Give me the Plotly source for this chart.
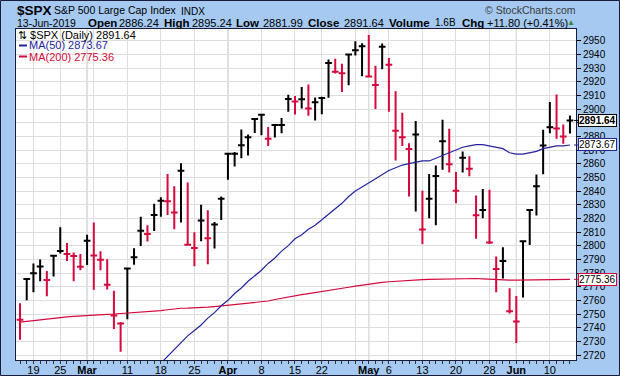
import plotly.graph_objects as go

# ---------------- data ----------------
DATES = [
    "2019-02-14", "2019-02-15", "2019-02-19", "2019-02-20", "2019-02-21", "2019-02-22",
    "2019-02-25", "2019-02-26", "2019-02-27", "2019-02-28",
    "2019-03-01", "2019-03-04", "2019-03-05", "2019-03-06", "2019-03-07", "2019-03-08",
    "2019-03-11", "2019-03-12", "2019-03-13", "2019-03-14", "2019-03-15",
    "2019-03-18", "2019-03-19", "2019-03-20", "2019-03-21", "2019-03-22",
    "2019-03-25", "2019-03-26", "2019-03-27", "2019-03-28", "2019-03-29",
    "2019-04-01", "2019-04-02", "2019-04-03", "2019-04-04", "2019-04-05",
    "2019-04-08", "2019-04-09", "2019-04-10", "2019-04-11", "2019-04-12",
    "2019-04-15", "2019-04-16", "2019-04-17", "2019-04-18",
    "2019-04-22", "2019-04-23", "2019-04-24", "2019-04-25", "2019-04-26",
    "2019-04-29", "2019-04-30",
    "2019-05-01", "2019-05-02", "2019-05-03",
    "2019-05-06", "2019-05-07", "2019-05-08", "2019-05-09", "2019-05-10",
    "2019-05-13", "2019-05-14", "2019-05-15", "2019-05-16", "2019-05-17",
    "2019-05-20", "2019-05-21", "2019-05-22", "2019-05-23", "2019-05-24",
    "2019-05-28", "2019-05-29", "2019-05-30", "2019-05-31",
    "2019-06-03", "2019-06-04", "2019-06-05", "2019-06-06", "2019-06-07",
    "2019-06-10", "2019-06-11", "2019-06-12", "2019-06-13",
]

HIGH = [
    2757.9, 2775.7, 2787.0, 2789.9, 2781.4, 2792.7, 2813.5, 2802.0, 2795.0, 2793.9,
    2808.0, 2816.9, 2795.9, 2790.0, 2767.0, 2744.1, 2784.0, 2798.2, 2821.2, 2815.0,
    2830.7, 2835.4, 2852.4, 2843.5, 2860.3, 2846.2, 2809.8, 2829.9, 2826.0, 2817.4,
    2836.0, 2868.0, 2868.5, 2885.0, 2881.3, 2893.2, 2895.9, 2886.9, 2889.0, 2893.4,
    2910.5, 2909.6, 2916.1, 2918.0, 2908.4, 2909.0, 2936.3, 2936.8, 2933.1, 2939.9,
    2949.5, 2948.2, 2954.1, 2931.7, 2947.9, 2937.3, 2913.0, 2897.3, 2875.0, 2891.3,
    2840.2, 2852.5, 2858.7, 2892.2, 2885.5, 2853.9, 2868.9, 2865.5, 2836.7, 2841.4,
    2841.0, 2792.0, 2798.9, 2768.9, 2763.1, 2803.5, 2826.2, 2852.1, 2884.9, 2905.1,
    2910.6, 2888.6, 2895.24,
]

LOW = [
    2731.2, 2760.0, 2766.0, 2773.9, 2763.0, 2777.5, 2794.2, 2788.8, 2774.0, 2782.0,
    2785.9, 2767.7, 2782.0, 2768.0, 2739.0, 2722.3, 2746.2, 2786.0, 2799.8, 2803.0,
    2810.8, 2821.2, 2822.5, 2812.0, 2817.0, 2800.2, 2785.0, 2803.3, 2786.5, 2798.0,
    2818.8, 2848.3, 2858.0, 2864.0, 2866.0, 2882.5, 2880.8, 2873.0, 2879.1, 2882.2,
    2898.0, 2896.0, 2900.3, 2895.0, 2891.5, 2896.2, 2908.3, 2926.0, 2912.5, 2917.3,
    2939.2, 2924.0, 2923.3, 2900.0, 2929.0, 2898.0, 2862.3, 2873.0, 2836.0, 2825.0,
    2801.0, 2820.0, 2815.0, 2855.5, 2853.5, 2831.0, 2853.5, 2850.8, 2805.0, 2820.0,
    2801.3, 2766.0, 2776.0, 2750.3, 2728.8, 2762.0, 2800.5, 2822.0, 2852.3, 2882.3,
    2878.3, 2874.5, 2881.99,
]

CLOSE = [
    2745.73, 2775.60, 2779.76, 2784.70, 2774.88, 2792.67, 2796.11, 2793.90, 2792.38, 2784.49,
    2803.69, 2792.81, 2789.65, 2771.45, 2748.93, 2743.07, 2783.30, 2791.52, 2810.92, 2808.48,
    2822.48, 2832.94, 2832.57, 2824.23, 2854.88, 2800.71, 2798.36, 2818.46, 2805.37, 2815.44,
    2834.40, 2867.19, 2867.24, 2873.40, 2879.39, 2892.74, 2895.77, 2878.20, 2888.21, 2888.32,
    2907.41, 2905.58, 2907.06, 2900.45, 2905.03, 2907.97, 2933.68, 2927.25, 2926.17, 2939.88,
    2943.03, 2945.83, 2923.73, 2917.52, 2945.64, 2932.47, 2884.05, 2879.42, 2870.72, 2881.40,
    2811.87, 2834.41, 2850.96, 2876.32, 2859.53, 2840.23, 2864.36, 2856.27, 2822.24, 2826.06,
    2802.39, 2783.02, 2788.86, 2752.06, 2744.45, 2803.27, 2826.15, 2843.49, 2873.34, 2886.73,
    2885.72, 2879.84, 2891.64,
]

MA50 = [
    2626, 2630, 2634, 2638, 2642, 2646, 2650, 2654, 2659, 2663,
    2668, 2672, 2677, 2681, 2686, 2690, 2695, 2699, 2704, 2708,
    2712, 2714, 2719, 2724, 2729, 2734, 2738, 2742, 2747, 2751,
    2756, 2760, 2765, 2769, 2774, 2778, 2782, 2787, 2791, 2796,
    2800, 2805, 2808, 2812, 2815, 2819, 2823, 2827, 2831, 2836,
    2840, 2843, 2846, 2849, 2852, 2855, 2857, 2859, 2860, 2861,
    2862, 2862, 2864, 2866, 2868, 2870, 2872, 2873, 2874, 2874,
    2873, 2872, 2871, 2868, 2867, 2867, 2868, 2869, 2871, 2872,
    2873, 2873, 2873.67,
]

MA200 = [
    2744.0, 2744.6, 2745.1, 2745.7, 2746.3, 2746.9, 2747.5, 2747.9, 2748.2, 2748.6,
    2749.0, 2749.3, 2749.6, 2749.8, 2750.0, 2750.3, 2750.5, 2750.9, 2751.2, 2751.6,
    2752.0, 2752.5, 2753.1, 2753.7, 2754.2, 2754.3, 2754.4, 2754.6, 2755.0, 2755.4,
    2755.9, 2756.3, 2756.7, 2757.2, 2757.7, 2758.2, 2758.7, 2759.5, 2760.6, 2761.6,
    2762.5, 2763.4, 2764.2, 2764.9, 2765.6, 2766.3, 2767.1, 2767.9, 2768.8, 2769.6,
    2770.4, 2771.2, 2771.9, 2772.6, 2773.1, 2773.6, 2774.0, 2774.4, 2774.7, 2774.9,
    2775.1, 2775.3, 2775.4, 2775.6, 2775.8, 2776.0, 2776.1, 2776.1, 2776.0, 2775.7,
    2775.4, 2775.1, 2774.9, 2774.8, 2774.8, 2774.9, 2775.0, 2775.1, 2775.2, 2775.2,
    2775.3, 2775.3, 2775.36,
]

PREV_CLOSE = 2753.03          # close before the first bar (first bar is a down day)
LAST_OPEN = 2886.24
LAST_VOLUME = "1.6B"

WEEK_STARTS = [
    "2019-02-19", "2019-02-25", "2019-03-04", "2019-03-11", "2019-03-18", "2019-03-25",
    "2019-04-01", "2019-04-08", "2019-04-15", "2019-04-22", "2019-04-29",
    "2019-05-06", "2019-05-13", "2019-05-20", "2019-05-28", "2019-06-03", "2019-06-10",
]
MONTH_STARTS = ["2019-03-01", "2019-04-01", "2019-05-01", "2019-06-03"]
MONTH_NAMES = ["Mar", "Apr", "May", "Jun"]
UNLABELED = ["2019-03-04", "2019-04-29"]

# ---------------- styling ----------------
FONT = "Liberation Sans, Arial, sans-serif"
FRAME_BG = "#a5c9f1"
RED = "#d5093c"
BLUE = "#23239e"
BORDER = "#1b1b3a"
GRID = "#dedede"
MONTH_GRID = "#b9b9b9"

PL, PR, PT, PB = 16, 576, 29, 360
W, H = 620, 376


def fx(px):
    return (px - PL) / (PR - PL)


def fy(py):
    return (PB - py) / (PB - PT)


X = list(range(len(DATES)))
prev = [PREV_CLOSE] + CLOSE[:-1]
up_idx = [i for i in X if CLOSE[i] > prev[i]]
dn_idx = [i for i in X if CLOSE[i] <= prev[i]]

fig = go.Figure()

fig.add_trace(go.Scatter(x=X, y=MA200, mode="lines", line=dict(color=RED, width=1.2),
                         hoverinfo="skip", showlegend=False))
fig.add_trace(go.Scatter(x=X, y=MA50, mode="lines", line=dict(color=BLUE, width=1.2),
                         hoverinfo="skip", showlegend=False))

for idx, col in ((up_idx, "black"), (dn_idx, RED)):
    fig.add_trace(go.Ohlc(
        x=idx,
        open=[CLOSE[i] for i in idx],
        high=[HIGH[i] for i in idx],
        low=[LOW[i] for i in idx],
        close=[CLOSE[i] for i in idx],
        increasing=dict(line=dict(color=col, width=2)),
        decreasing=dict(line=dict(color=col, width=2)),
        tickwidth=0.5,
        hoverinfo="skip",
        showlegend=False,
    ))

# x ticks: week starts + month starts
tick_dates = sorted(set(WEEK_STARTS) | set(MONTH_STARTS))
tickvals, ticktext = [], []
for d in tick_dates:
    tickvals.append(DATES.index(d))
    if d in MONTH_STARTS:
        ticktext.append("<b>%s</b>" % MONTH_NAMES[MONTH_STARTS.index(d)])
    elif d in UNLABELED:
        ticktext.append("")
    else:
        ticktext.append(str(int(d[-2:])))

shapes = []
for d in MONTH_STARTS:
    shapes.append(dict(type="line", xref="x", yref="paper", x0=DATES.index(d), x1=DATES.index(d),
                       y0=0, y1=1, line=dict(color=MONTH_GRID, width=1), layer="below"))
# outer frame
shapes.append(dict(type="rect", xref="paper", yref="paper", x0=fx(0.5), x1=fx(W - 0.5),
                   y0=fy(H - 0.5), y1=fy(0.5), line=dict(color=BORDER, width=1)))
# legend line swatches
shapes.append(dict(type="line", xref="paper", yref="paper", x0=fx(19), x1=fx(27),
                   y0=fy(45.5), y1=fy(45.5), line=dict(color=BLUE, width=2)))
shapes.append(dict(type="line", xref="paper", yref="paper", x0=fx(19), x1=fx(27),
                   y0=fy(56.5), y1=fy(56.5), line=dict(color=RED, width=2)))

ann = []


def txt(text, x, y, size, color="black", xanchor="left", bold=False):
    ann.append(dict(text=("<b>%s</b>" % text) if bold else text, x=fx(x), y=fy(y),
                    xref="paper", yref="paper", xanchor=xanchor, yanchor="middle",
                    showarrow=False, borderpad=0,
                    font=dict(family=FONT, size=size, color=color)))


last_c = CLOSE[-1]
chg = CLOSE[-1] - CLOSE[-2]
pct = chg / CLOSE[-2] * 100

# header line 1
txt("$SPX", 16, 10.5, 13.5, bold=True)
txt("S&P 500 Large Cap Index", 53, 10.5, 10.5)
txt("INDX", 180, 11, 10)
txt("© StockCharts.com", 577, 9.5, 10.5, color="#3a3a3a", xanchor="right")
# header line 2
LINE2_Y = 22.5
txt("13-Jun-2019", 16, LINE2_Y, 10.5)
for lab, lx, val, vx in (("Open", 87, "%.2f" % LAST_OPEN, 118),
                         ("High", 163, "%.2f" % HIGH[-1], 191),
                         ("Low", 235, "%.2f" % LOW[-1], 262),
                         ("Close", 307, "%.2f" % last_c, 343),
                         ("Volume", 388, LAST_VOLUME, 434),
                         ("Chg", 461, "%+.2f (%+.2f%%)" % (chg, pct), 486)):
    txt(lab, lx, LINE2_Y, 11.5, bold=True)
    txt(val, vx, LINE2_Y, 11 if lab != "Volume" else 10)
txt("▲", 566, LINE2_Y, 8, color="#2e8b3a")
# in-plot legend
txt("⇅ $SPX (Daily) %.2f" % last_c, 17, 35, 11)
txt("MA(50) %.2f" % MA50[-1], 28, 45.5, 11, color=BLUE)
txt("MA(200) %.2f" % MA200[-1], 28, 56.5, 11, color=RED)

# right-side value tags (with a short pointer to the axis)
for val, col, b in ((last_c, "black", True), (MA50[-1], BLUE, False), (MA200[-1], RED, False)):
    ann.append(dict(text=("<b>%.2f</b>" if b else "%.2f") % val, x=fx(574), y=val,
                    xref="paper", yref="y", xanchor="left", yanchor="middle",
                    showarrow=True, arrowhead=0, arrowwidth=1, arrowcolor=col,
                    ax=4, ay=0, standoff=0, startstandoff=0,
                    bgcolor="white", bordercolor=col, borderwidth=1,
                    borderpad=0, font=dict(family=FONT, size=10, color="black")))

fig.update_layout(
    width=W, height=H,
    margin=dict(l=PL, r=W - PR, t=PT, b=H - PB, pad=0, autoexpand=False),
    paper_bgcolor=FRAME_BG, plot_bgcolor="white",
    showlegend=False,
    shapes=shapes, annotations=ann,
    font=dict(family=FONT, size=11, color="black"),
    xaxis=dict(
        range=[-0.6, 82.9], tickmode="array", tickvals=tickvals, ticktext=ticktext,
        ticks="", showgrid=True, gridcolor=GRID, gridwidth=1, zeroline=False,
        showline=True, mirror=True, linecolor=BORDER, linewidth=1, automargin=False,
        tickfont=dict(family=FONT, size=11, color="black"),
        rangeslider=dict(visible=False), fixedrange=True,
        minor=dict(ticks="outside", ticklen=3, tickcolor="#333", dtick=1, tick0=0, showgrid=False),
    ),
    yaxis=dict(
        side="right", range=[2716.35, 2958.54], tick0=2720, dtick=10, automargin=False,
        ticks="outside", ticklen=4, tickcolor="black", showgrid=True, gridcolor=GRID,
        zeroline=False, showline=True, mirror=True, linecolor=BORDER, linewidth=1,
        tickfont=dict(family=FONT, size=10, color="black"), fixedrange=True,
    ),
)

fig.write_html("out.html", config={"displayModeBar": False},
               post_script="document.body.style.margin='0';document.body.style.overflow='hidden';")
